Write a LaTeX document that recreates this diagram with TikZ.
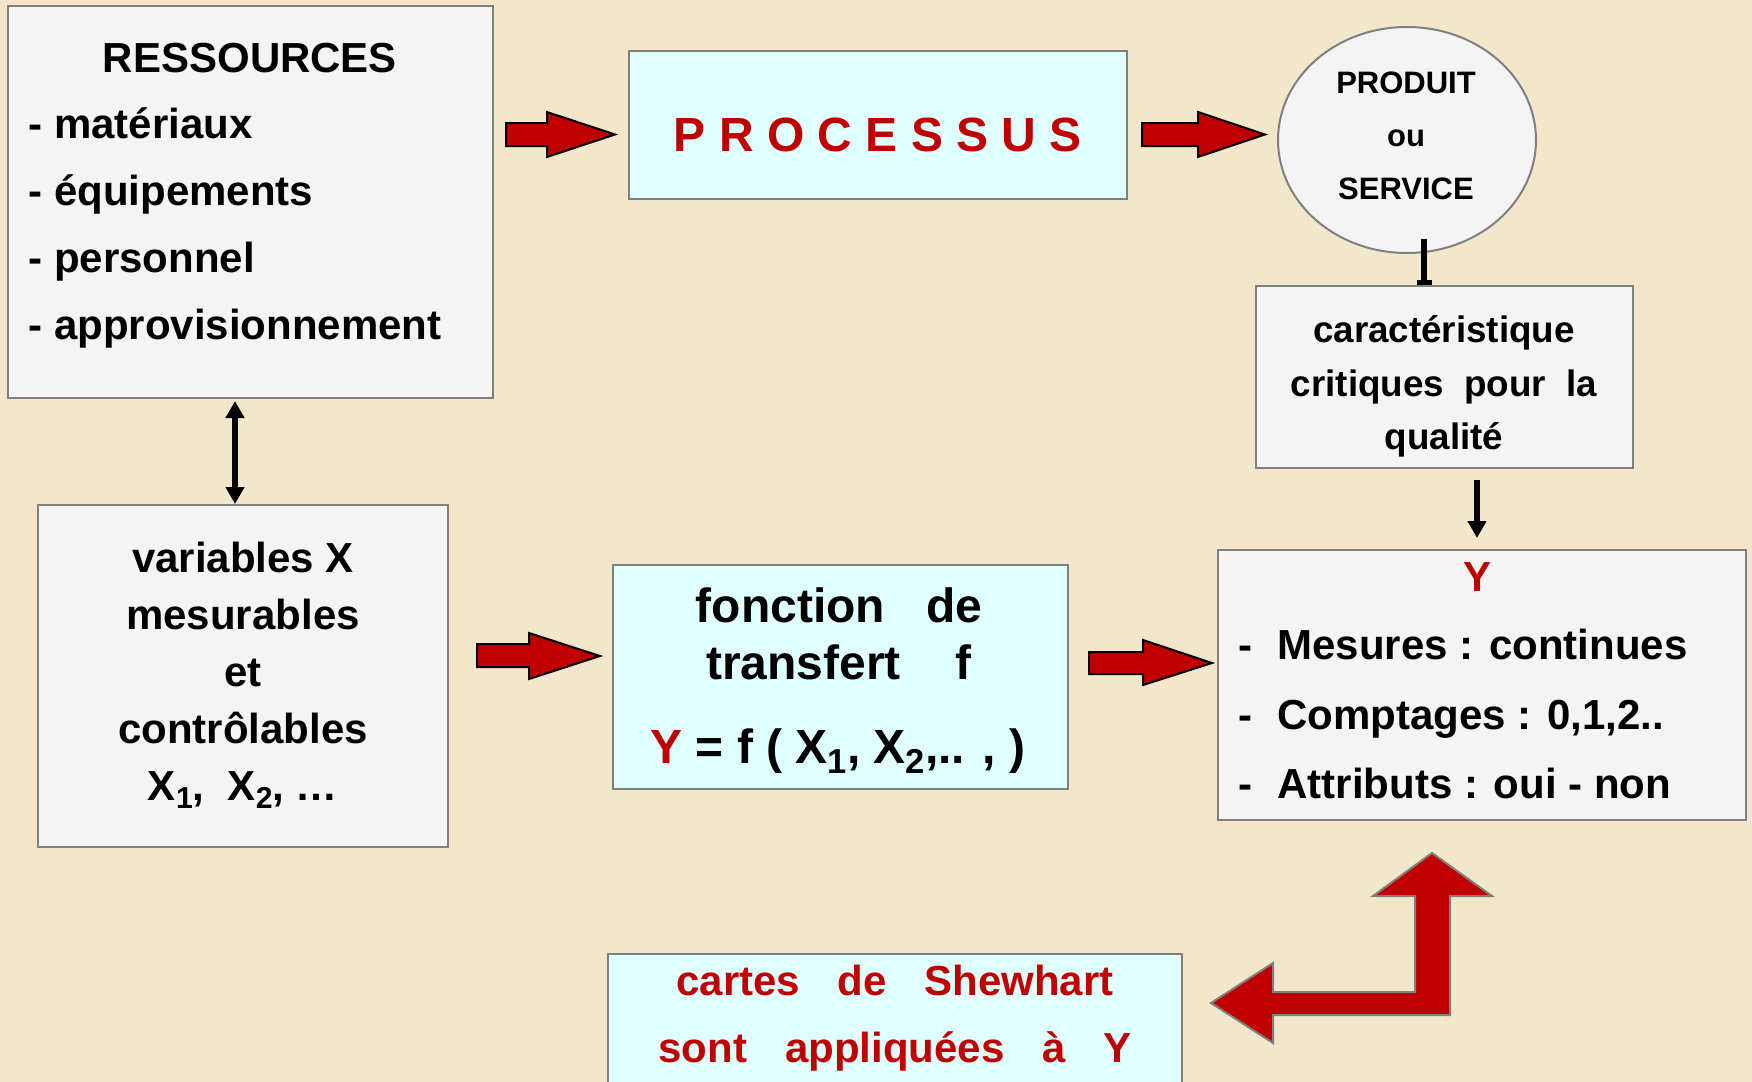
\documentclass[tikz,border=0pt]{standalone}
\usepackage{fontspec}
\setmainfont{Liberation Sans}
\usetikzlibrary{arrows.meta,backgrounds,shapes.geometric}
\definecolor{bgc}{RGB}{243,231,203}
\definecolor{boxg}{RGB}{244,244,244}
\definecolor{boxc}{RGB}{224,255,255}
\definecolor{bord}{RGB}{128,128,128}
\definecolor{darkred}{RGB}{192,0,0}
\newcommand{\fsz}[2]{\fontsize{#1}{#2}\selectfont\bfseries}
\newcommand{\sbs}[1]{\raisebox{-0.2em}{\scalebox{0.72}{#1}}}
\tikzset{
  box/.style={draw=bord, line width=1pt, rectangle, inner sep=0pt},
  gbox/.style={box, fill=boxg},
  cbox/.style={box, fill=boxc},
  txt/.style={inner sep=0pt, align=center},
  blockarrow/.style={fill=darkred, draw=black, line width=1pt, line join=miter},
  bentarrow/.style={fill=darkred, draw=bord, line width=1pt, line join=miter},
  thinarrow/.style={line width=2.7pt, -{Triangle[width=9pt,length=8.5pt]}},
  dblarrow/.style={line width=2.7pt, {Triangle[width=9pt,length=8.5pt]}-{Triangle[width=9pt,length=8.5pt]}},
  teearrow/.style={line width=2.7pt, -{Rectangle[width=7.5pt,length=2.5pt]}}
}
\begin{document}
\begin{tikzpicture}[x=0.5pt,y=-0.5pt]
\path[use as bounding box] (0,0) rectangle (1752,1082);
\begin{scope}[on background layer]
  \fill[bgc] (0,0) rectangle (1752,1082);
\end{scope}
\clip (0,0) rectangle (1752,1082);

% boxes
\node[gbox, minimum width=242.5pt, minimum height=196pt] (res) at (250.5,202) {};
\node[cbox, minimum width=249pt, minimum height=74pt] (proc) at (878,125) {};
\node[ellipse, draw=bord, line width=1pt, fill=boxg, inner sep=0pt, minimum width=129pt, minimum height=113pt] (prod) at (1407,140) {};
\node[gbox, minimum width=188.5pt, minimum height=91pt] (car) at (1444.5,377) {};
\node[gbox, minimum width=264pt, minimum height=135pt] (ybox) at (1482,685) {};
\node[gbox, minimum width=205pt, minimum height=171pt] (var) at (243,676) {};
\node[cbox, minimum width=227.5pt, minimum height=112pt] (fon) at (840.5,677) {};
\node[cbox, minimum width=287pt, minimum height=73pt] (cartes) at (895,1027) {};

% texts
\node[txt, font=\fsz{21}{33.5}] (restitle) at (250,58) {RESSOURCES};
\node[txt, align=left, anchor=west, font=\fsz{21}{33.5}] (resitems) at (28,228)
  {- matériaux\\- équipements\\- personnel\\- approvisionnement};
\node[txt, font=\fsz{24}{30}, text=darkred] (proctxt) at (878,135) {P R O C E S S U S};
\node[txt, font=\fsz{15.5}{26.5}] (prodtxt) at (1406,136) {PRODUIT\\ou\\SERVICE};
\node[txt, font=\fsz{18.4}{26.75}] (cartxt) at (1444,386.5)
  {caractéristique\\critiques\hspace{0.55em}pour\hspace{0.55em}la\\qualité};
\node[txt, font=\fsz{21}{28.5}] (vartxt) at (243,675)
  {variables X\\mesurables\\et\\contrôlables\\X\sbs{1},\ \ X\sbs{2}, …};
\node[txt, font=\fsz{24}{28.5}] (fontxt) at (839,634)
  {fonction\hspace{0.85em}de\\transfert\hspace{1.15em}f};
\node[txt, font=\fsz{24}{28.5}] (formula) at (838,751)
  {{\color{darkred}Y} = f ( X\sbs{1}, X\sbs{2},.. , )};
\node[txt, font=\fsz{21}{30}, text=darkred] (ytitle) at (1477,577) {Y};
\node[txt, align=left, anchor=west, font=\fsz{21}{34.75}] (yitems) at (1238,714)
  {-\hspace{0.6em}Mesures : continues\\-\hspace{0.6em}Comptages : 0,1,2..\\-\hspace{0.6em}Attributs : oui - non};
\node[txt, font=\fsz{21}{33.5}, text=darkred] (cartestxt) at (895,1018)
  {cartes\hspace{0.9em}de\hspace{0.9em}Shewhart\\sont\hspace{0.9em}appliquées\hspace{0.9em}à\hspace{0.9em}Y};

% thin connectors
\coordinate (dx) at (235,0);
\coordinate (px) at (1424,0);
\coordinate (ax) at (1477,0);
\draw[dblarrow] ([yshift=-1pt]res.south -| dx) -- (var.north -| dx);
\draw[teearrow] ([yshift=7.5pt]prod.south -| px) -- (car.north -| px);
\draw[thinarrow] ([yshift=-5.5pt]car.south -| ax) -- ([yshift=5.5pt]ybox.north -| ax);

% block arrows
\draw[blockarrow] (506,123) -- (547,123) -- (547,112) -- (615,134.5) -- (547,157) -- (547,146) -- (506,146) -- cycle;
\draw[blockarrow] (1142,123) -- (1198,123) -- (1198,112) -- (1265,134.5) -- (1198,157) -- (1198,146) -- (1142,146) -- cycle;
\draw[blockarrow] (477,644) -- (529,644) -- (529,633) -- (600,656) -- (529,679) -- (529,667) -- (477,667) -- cycle;
\draw[blockarrow] (1089,652) -- (1143,652) -- (1143,640) -- (1212,663) -- (1143,685) -- (1143,674) -- (1089,674) -- cycle;
% bent double-headed arrow
\draw[bentarrow] (1432,853) -- (1492,896) -- (1450,896) -- (1450,1015) -- (1273,1015) -- (1273,1043)
  -- (1211,1003) -- (1273,963) -- (1273,992) -- (1415,992) -- (1415,896) -- (1373,896) -- cycle;
\end{tikzpicture}
\end{document}
